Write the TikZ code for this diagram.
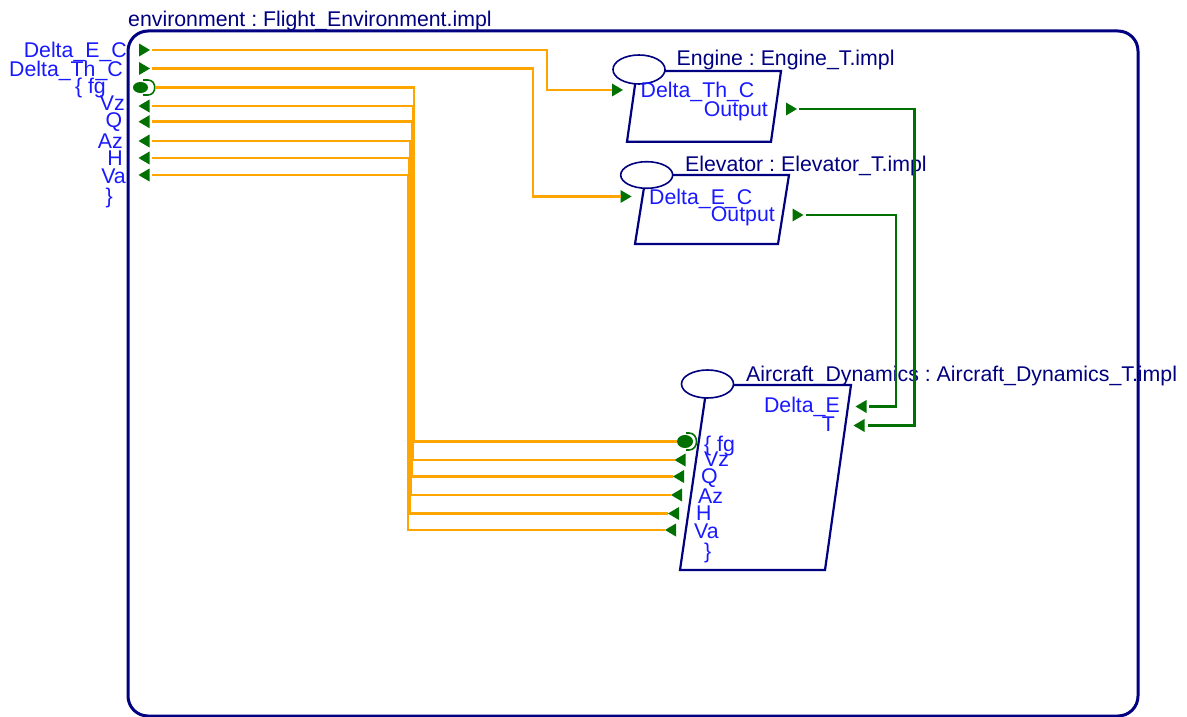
\documentclass[tikz,border=0pt]{standalone}
\usepackage{fontspec}
\setmainfont{Liberation Sans}
\frenchspacing
\definecolor{navy}{RGB}{0,0,128}
\definecolor{pblue}{RGB}{25,25,255}
\definecolor{orng}{RGB}{255,165,0}
\definecolor{dgreen}{RGB}{0,112,0}
\tikzset{
  oline/.style={draw=orng, line width=2.5pt},
  gline/.style={draw=dgreen, line width=2.2pt},
  boxline/.style={draw=navy, line width=2.2pt, line join=miter},
  ovalline/.style={draw=navy, line width=1.6pt, fill=white},
  gport/.style={fill=dgreen},
  ttl/.style={text=navy, inner sep=0pt, font=\fontsize{21.3}{21.3}\selectfont},
  plab/.style={text=pblue, inner sep=0pt, font=\fontsize{21.3}{21.3}\selectfont},
  pinright/.pic={\fill[gport] (-5.5,-6.5) -- (5.5,0) -- (-5.5,6.5) -- cycle;},
  pinleft/.pic={\fill[gport] (5.5,-6.5) -- (-5.5,0) -- (5.5,6.5) -- cycle;},
}
\begin{document}
\begin{tikzpicture}[x=1pt,y=-1pt]
\useasboundingbox (0,0) rectangle (1187,717);
% environment frame
\draw[navy, line width=3pt, rounded corners=20pt] (128,31) rectangle (1138,716);
\node[ttl, anchor=base west] (envtitle) at (128,26.5) {environment : Flight\_Environment.impl};
% environment port labels
\node[plab, anchor=base east] (lDEC) at (127,58) {Delta\_E\_C};
\node[plab, anchor=base east] (lDTC) at (123,76.5) {Delta\_Th\_C};
\node[plab, anchor=base east] (lFG) at (106,94) {\{ fg};
\node[plab, anchor=base east] (lVZ) at (125,110.5) {Vz};
\node[plab, anchor=base east] (lQ) at (122.5,128) {Q};
\node[plab, anchor=base east] (lAZ) at (123,148.5) {Az};
\node[plab, anchor=base east] (lH) at (123,165.5) {H};
\node[plab, anchor=base east] (lVA) at (126,183) {Va};
\node[plab, anchor=base east] (lEND) at (113,203) {\}};
% environment port markers
\pic at (144.5,50) {pinright};
\pic at (144.5,68.5) {pinright};
\fill[dgreen] (140.5,87.5) ellipse [x radius=7.5pt, y radius=5.5pt];
\draw[dgreen, line width=1.6pt] (143,80) -- (148,80) .. controls (157,80) and (157,95) .. (148,95) -- (143,95);
\pic at (144,106) {pinleft};
\pic at (144,121.7) {pinleft};
\pic at (144,141) {pinleft};
\pic at (144,158) {pinleft};
\pic at (144,175) {pinleft};
\coordinate (envDEC) at (152,50);
\coordinate (envDTC) at (152,68.5);
\coordinate (envFG) at (155,87.5);
\coordinate (envVZ) at (152,106);
\coordinate (envQ) at (152,121.7);
\coordinate (envAZ) at (152,141);
\coordinate (envH) at (152,158);
\coordinate (envVA) at (152,175);
% Engine
\draw[boxline] (637,71) -- (781,71) -- (771,141.7) -- (627,141.7) -- cycle;
\draw[ovalline] (639,69.5) ellipse [x radius=26pt, y radius=14.5pt];
\node[ttl, anchor=base west] (engtitle) at (676.5,66) {Engine : Engine\_T.impl};
\node[plab, anchor=base west] (engInL) at (640.5,97.5) {Delta\_Th\_C};
\node[plab, anchor=base east] (engOutL) at (768,116.5) {Output};
\pic at (617.5,90) {pinright};
\pic at (791.5,109) {pinright};
\coordinate (engIn) at (612,90);
\coordinate (engOut) at (799,109);
% Elevator
\draw[boxline] (646,175) -- (789,175) -- (778,244) -- (635,244) -- cycle;
\draw[ovalline] (646.7,175) ellipse [x radius=26pt, y radius=13.3pt];
\node[ttl, anchor=base west] (elvtitle) at (685,171.5) {Elevator : Elevator\_T.impl};
\node[plab, anchor=base west] (elvInL) at (649,204) {Delta\_E\_C};
\node[plab, anchor=base east] (elvOutL) at (775,221.5) {Output};
\pic at (626,196.5) {pinright};
\pic at (798,215) {pinright};
\coordinate (elvIn) at (620.5,196.5);
\coordinate (elvOut) at (806,215);
% Aircraft dynamics
\draw[boxline] (707,385) -- (851,385) -- (825,570) -- (680,570) -- cycle;
\draw[ovalline] (707.5,384) ellipse [x radius=26pt, y radius=14pt];
\node[ttl, anchor=base west] (actitle) at (746,381) {Aircraft\_Dynamics : Aircraft\_Dynamics\_T.impl};
\node[plab, anchor=base east] (acDEL) at (840,412.5) {Delta\_E};
\node[plab, anchor=base east] (acTL) at (835,431.5) {T};
\node[plab, anchor=base west] (acFGL) at (704,451) {\{ fg};
\node[plab, anchor=base west] (acVZL) at (704,466) {Vz};
\node[plab, anchor=base west] (acQL) at (701,483.5) {Q};
\node[plab, anchor=base west] (acAZL) at (698,503) {Az};
\node[plab, anchor=base west] (acHL) at (696,520) {H};
\node[plab, anchor=base west] (acVAL) at (694,538) {Va};
\node[plab, anchor=base west] (acENDL) at (704,558) {\}};
\fill[dgreen] (685,441.5) ellipse [x radius=8pt, y radius=6.5pt];
\draw[dgreen, line width=1.6pt] (686,433) -- (689,433) .. controls (699,433) and (699,450) .. (689,450) -- (686,450);
\pic at (680,460) {pinleft};
\pic at (678.5,476.5) {pinleft};
\pic at (676.5,495) {pinleft};
\pic at (673.5,513.5) {pinleft};
\pic at (670.5,530) {pinleft};
\pic at (861,406.5) {pinleft};
\pic at (859,425.5) {pinleft};
\coordinate (acFG) at (677,441.5);
\coordinate (acVZ) at (674.5,460);
\coordinate (acQ) at (673,476.5);
\coordinate (acAZ) at (671,495);
\coordinate (acH) at (668,513.5);
\coordinate (acVA) at (665,530);
\coordinate (acDE) at (868.5,406.5);
\coordinate (acT) at (867.5,425.5);
% orange connectors
\draw[oline] (envDEC) -- ++(395,0) |- (engIn);
\draw[oline] (envDTC) -- ++(381,0) |- (elvIn);
\draw[oline] (envFG) -- ++(259,0) |- (acFG);
\draw[oline] (envVZ) -- ++(261,0) |- (acVZ);
\draw[oline] (envQ) -- ++(260,0) |- (acQ);
\draw[oline] (envAZ) -- ++(258.5,0) |- (acAZ);
\draw[oline] (envH) -- ++(257.5,0) |- (acH);
\draw[oline] (envVA) -- ++(256,0) |- (acVA);
% green connectors
\draw[gline] (engOut) -- ++(115.5,0) |- (acT);
\draw[gline] (elvOut) -- ++(90,0) |- (acDE);
\end{tikzpicture}
\end{document}
